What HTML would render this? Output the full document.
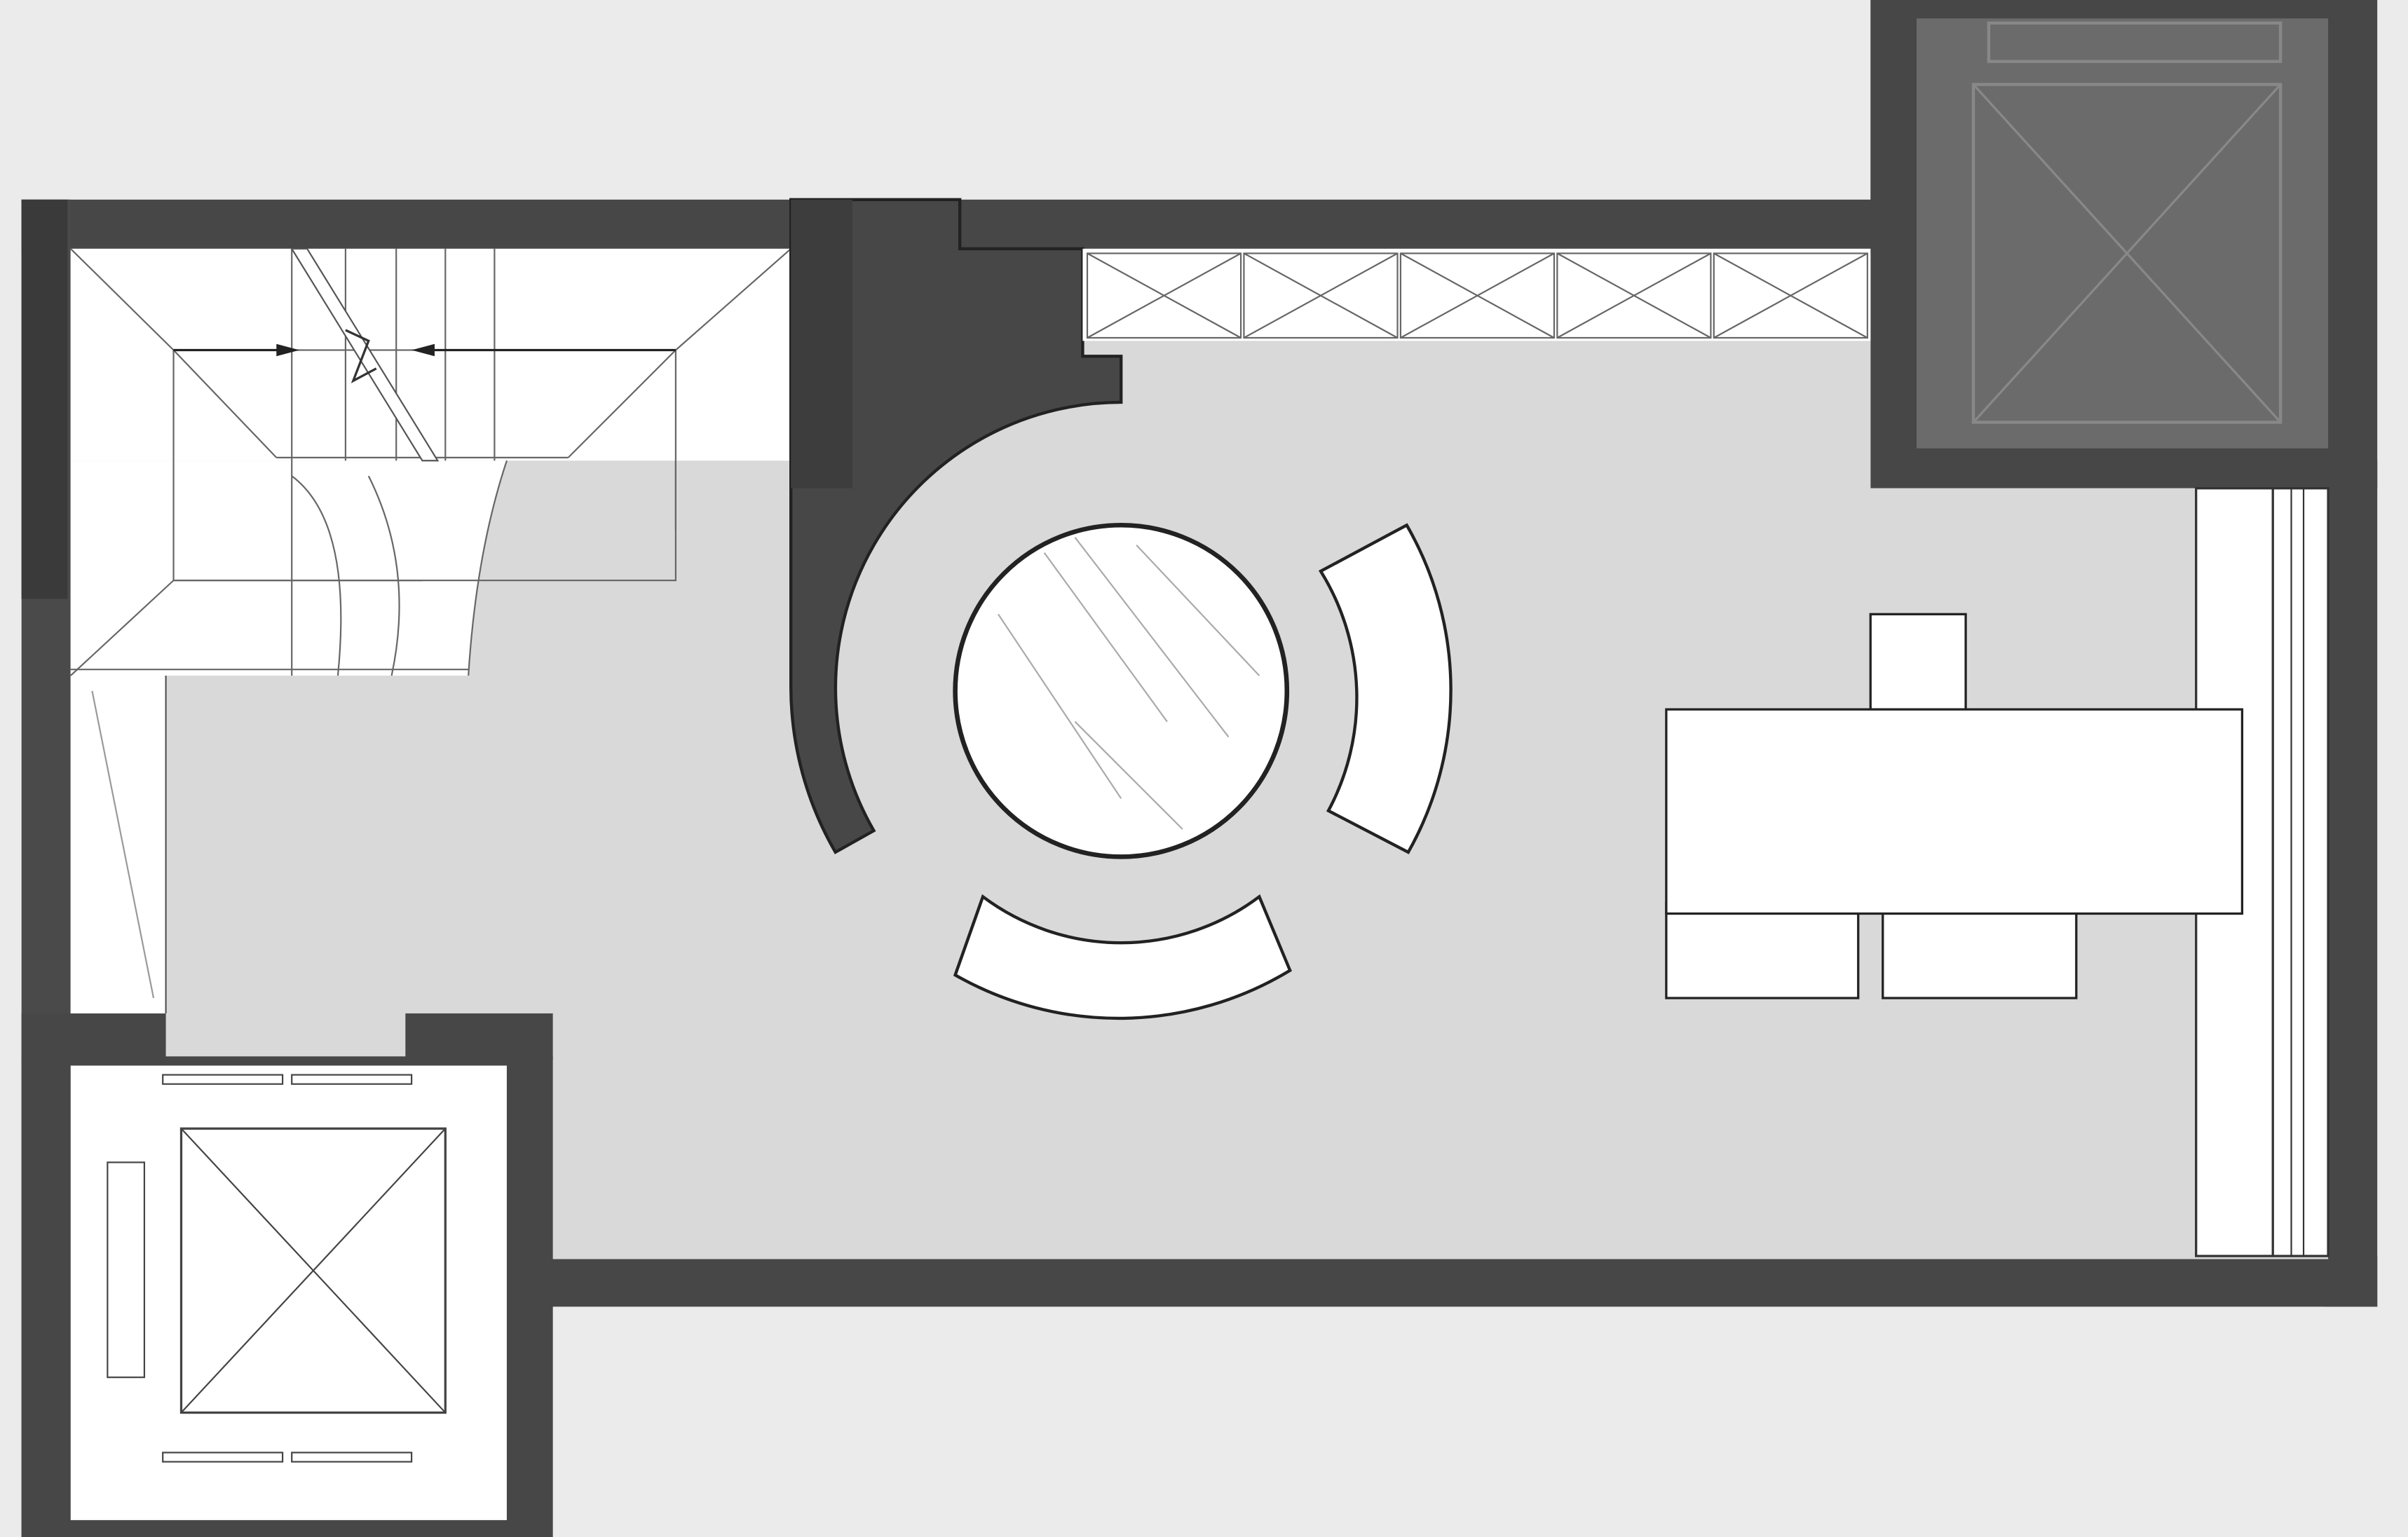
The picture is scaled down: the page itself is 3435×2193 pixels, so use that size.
<!DOCTYPE html>
<html><head><meta charset="utf-8"><style>
html,body{margin:0;padding:0;background:#ebebeb;}
svg{display:block;}
</style></head><body>
<svg width="3435" height="2193" viewBox="0 0 1568 1001" preserveAspectRatio="none" xmlns="http://www.w3.org/2000/svg">
<rect x="0" y="0" width="1568" height="1001" fill="#ebebeb"/>
<!-- outer walls -->
<rect x="14" y="130" width="1220" height="35" fill="#474747"/>
<rect x="14" y="130" width="32" height="871" fill="#4a4a4a"/>
<rect x="14" y="130" width="30" height="260" fill="#3a3a3a"/>
<rect x="358" y="818" width="1190" height="33" fill="#474747"/>
<rect x="1514" y="300" width="34" height="551" fill="#474747"/>
<!-- top right elevator -->
<rect x="1218" y="0" width="330" height="318" fill="#474747"/>
<rect x="1248" y="12" width="268" height="280" fill="#6b6b6b"/>
<rect x="1295" y="15" width="190" height="25" fill="none" stroke="#888" stroke-width="2"/>
<rect x="1285" y="55" width="200" height="220" fill="none" stroke="#888" stroke-width="2"/>
<line x1="1285" y1="55" x2="1485" y2="275" stroke="#888" stroke-width="1.5"/>
<line x1="1485" y1="55" x2="1285" y2="275" stroke="#888" stroke-width="1.5"/>
<!-- floor -->
<path d="M46,162 L1218,162 L1218,318 L1516,318 L1516,820 L46,820 Z" fill="#d9d9d9"/>
<!-- bottom left elevator -->
<rect x="14" y="688" width="346" height="313" fill="#474747"/>
<rect x="14" y="660" width="94" height="30" fill="#474747"/>
<rect x="264" y="660" width="96" height="30" fill="#474747"/>
<rect x="46" y="694" width="284" height="296" fill="#ffffff"/>
<rect x="118" y="735" width="172" height="185" fill="none" stroke="#444" stroke-width="1.5"/>
<line x1="118" y1="735" x2="290" y2="920" stroke="#444" stroke-width="1"/>
<line x1="290" y1="735" x2="118" y2="920" stroke="#444" stroke-width="1"/>
<rect x="106" y="700" width="78" height="6" fill="none" stroke="#444" stroke-width="1"/>
<rect x="190" y="700" width="78" height="6" fill="none" stroke="#444" stroke-width="1"/>
<rect x="106" y="946" width="78" height="6" fill="none" stroke="#444" stroke-width="1"/>
<rect x="190" y="946" width="78" height="6" fill="none" stroke="#444" stroke-width="1"/>
<rect x="70" y="757" width="24" height="140" fill="none" stroke="#444" stroke-width="1"/>
<!-- stairs -->
<rect x="46" y="162" width="469" height="138" fill="#fff"/>
<path d="M46,300 L330,300 Q310,360 305,440 L46,440 Z" fill="#fff"/>
<rect x="46" y="440" width="62" height="220" fill="#fff"/>
<line x1="108" y1="440" x2="108" y2="660" stroke="#555" stroke-width="1"/>
<line x1="60" y1="450" x2="100" y2="650" stroke="#999" stroke-width="1"/>
<g stroke="#666" stroke-width="1" fill="none">
<rect x="113" y="228" width="327" height="150"/>
<line x1="46" y1="162" x2="113" y2="228"/>
<line x1="515" y1="162" x2="440" y2="228"/>
<line x1="46" y1="440" x2="113" y2="378"/>
<line x1="190" y1="162" x2="190" y2="440"/>
<line x1="225" y1="162" x2="225" y2="300"/>
<line x1="258" y1="162" x2="258" y2="300"/>
<line x1="290" y1="162" x2="290" y2="300"/>
<line x1="322" y1="162" x2="322" y2="300"/>
<line x1="180" y1="298" x2="370" y2="298"/>
<line x1="370" y1="298" x2="440" y2="228"/>
<line x1="113" y1="228" x2="180" y2="298"/>
<line x1="440" y1="300" x2="440" y2="345"/>
<line x1="113" y1="378" x2="275" y2="378"/>
<path d="M190,310 Q230,340 220,440"/>
<path d="M240,310 Q270,370 255,440"/>
<line x1="46" y1="436" x2="305" y2="436"/>
<path d="M330,300 Q310,360 305,440"/>
</g>
<path d="M190,162 L200,162 L285,300 L275,300 Z" fill="#fff" stroke="#555" stroke-width="1"/>
<polyline points="225,215 240,222 230,248 245,240" fill="none" stroke="#333" stroke-width="1.5"/>
<line x1="113" y1="228" x2="185" y2="228" stroke="#222" stroke-width="1.5"/>
<polygon points="195,228 180,224 180,232" fill="#222"/>
<line x1="440" y1="228" x2="280" y2="228" stroke="#222" stroke-width="1.5"/>
<polygon points="268,228 283,224 283,232" fill="#222"/>
<!-- column + curved wall -->
<path d="M515,130 L625,130 L625,162 L705,162 L705,232 L730,232 L730,262 A186,186 0 0 0 569,541 L544,555 A215,215 0 0 1 515,448 Z" fill="#474747" stroke="#222" stroke-width="2"/>
<rect x="515" y="130" width="40" height="188" fill="#3d3d3d"/>
<!-- storage cabinets -->
<rect x="705" y="162" width="513" height="60" fill="#fff"/>
<g stroke="#666" stroke-width="1" fill="none">
<rect x="708" y="165" width="100" height="55"/><line x1="708" y1="165" x2="808" y2="220"/><line x1="808" y1="165" x2="708" y2="220"/>
<rect x="810" y="165" width="100" height="55"/><line x1="810" y1="165" x2="910" y2="220"/><line x1="910" y1="165" x2="810" y2="220"/>
<rect x="912" y="165" width="100" height="55"/><line x1="912" y1="165" x2="1012" y2="220"/><line x1="1012" y1="165" x2="912" y2="220"/>
<rect x="1014" y="165" width="100" height="55"/><line x1="1014" y1="165" x2="1114" y2="220"/><line x1="1114" y1="165" x2="1014" y2="220"/>
<rect x="1116" y="165" width="100" height="55"/><line x1="1116" y1="165" x2="1216" y2="220"/><line x1="1216" y1="165" x2="1116" y2="220"/>
</g>
<!-- round table -->
<circle cx="730" cy="450" r="108" fill="#fff" stroke="#222" stroke-width="3"/>
<g stroke="#aaa" stroke-width="1">
<line x1="680" y1="360" x2="760" y2="470"/><line x1="700" y1="350" x2="800" y2="480"/>
<line x1="650" y1="400" x2="730" y2="520"/><line x1="740" y1="355" x2="820" y2="440"/>
<line x1="700" y1="470" x2="770" y2="540"/>
</g>
<!-- benches -->
<path d="M860,372 A156,156 0 0 1 865,528 L917,555 A215,215 0 0 0 916,342 Z" fill="#fff" stroke="#222" stroke-width="2"/>
<path d="M640,584 A150,150 0 0 0 820,584 L840,632 A215,215 0 0 1 622,635 Z" fill="#fff" stroke="#222" stroke-width="2"/>
<!-- right panel -->
<rect x="1430" y="318" width="86" height="500" fill="#fff" stroke="#333" stroke-width="1.5"/>
<line x1="1480" y1="318" x2="1480" y2="818" stroke="#333" stroke-width="1.5"/>
<line x1="1492" y1="318" x2="1492" y2="818" stroke="#333" stroke-width="1"/>
<line x1="1500" y1="318" x2="1500" y2="818" stroke="#333" stroke-width="1"/>
<!-- desk -->
<rect x="1218" y="400" width="62" height="62" fill="#fff" stroke="#222" stroke-width="1.5"/>
<rect x="1085" y="588" width="125" height="62" fill="#fff" stroke="#222" stroke-width="1.5"/>
<rect x="1226" y="588" width="126" height="62" fill="#fff" stroke="#222" stroke-width="1.5"/>
<rect x="1085" y="462" width="375" height="133" fill="#fff" stroke="#222" stroke-width="1.5"/>
</svg>
</body></html>
